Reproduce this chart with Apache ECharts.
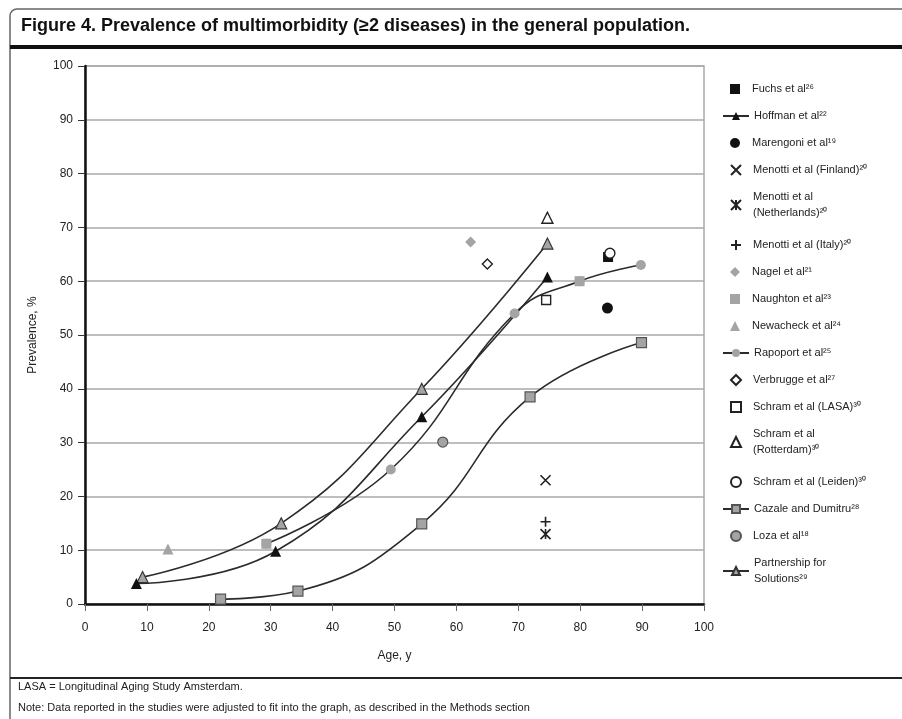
<!DOCTYPE html>
<html><head><meta charset="utf-8">
<script src="https://cdn.jsdelivr.net/npm/echarts@6/dist/echarts.min.js"></script>
<style>html,body{margin:0;padding:0;background:#fff}#c{width:902px;height:719px}</style>
</head><body><div id="c"></div>
<script>
// ---- text ----
const titleText = 'Figure 4. Prevalence of multimorbidity (\u22652 diseases) in the general population.';
const footnote1 = 'LASA = Longitudinal Aging Study Amsterdam.';
const footnote2 = 'Note: Data reported in the studies were adjusted to fit into the graph, as described in the Methods section';
const xName = 'Age, y';
const yName = 'Prevalence, %';
const axisMin = 0, axisMax = 100, axisStep = 10;

// ---- legend names (order as in the figure) ----
const legendNames = [
  'Fuchs et al\u00b2\u2076',
  'Hoffman et al\u00b2\u00b2',
  'Marengoni et al\u00b9\u2079',
  'Menotti et al (Finland)\u00b2\u2070',
  'Menotti et al\n(Netherlands)\u00b2\u2070',
  'Menotti et al (Italy)\u00b2\u2070',
  'Nagel et al\u00b2\u00b9',
  'Naughton et al\u00b2\u00b3',
  'Newacheck et al\u00b2\u2074',
  'Rapoport et al\u00b2\u2075',
  'Verbrugge et al\u00b2\u2077',
  'Schram et al (LASA)\u00b3\u2070',
  'Schram et al\n(Rotterdam)\u00b3\u2070',
  'Schram et al (Leiden)\u00b3\u2070',
  'Cazale and Dumitru\u00b2\u2078',
  'Loza et al\u00b9\u2078',
  'Partnership for\nSolutions\u00b2\u2079'
];

// ---- data: [age, prevalence %] ----
const fuchs        = [[84.5, 64.5]];
const hoffman      = [[8.3, 3.8], [30.8, 9.8], [54.4, 34.8], [74.7, 60.8]];
const marengoni    = [[84.4, 55.0]];
const menottiFin   = [[74.4, 23.0]];
const menottiNeth  = [[74.4, 13.0]];
const menottiItaly = [[74.4, 15.3]];
const nagel        = [[62.3, 67.3]];
const naughton     = [[29.3, 11.2], [79.9, 60.0]];
const newacheck    = [[13.4, 10.2]];
const rapoport     = [[29.3, 11.2], [49.4, 25.0], [69.4, 54.0], [79.9, 60.0], [89.8, 63.0]];
const verbrugge    = [[65.0, 63.2]];
const schramLASA   = [[74.5, 56.5]];
const schramRott   = [[74.7, 71.8]];
const schramLeiden = [[84.8, 65.2]];
const cazale       = [[21.9, 0.9], [34.4, 2.4], [54.4, 14.9], [71.9, 38.5], [89.9, 48.6]];
const loza         = [[57.8, 30.1]];
const partnership  = [[9.3, 5.0], [31.7, 15.0], [54.4, 40.0], [74.7, 67.0]];

// ---- styles ----
const GREY = '#a4a4a4', LINE = '#2b2b2b', BLACK = '#111';
const SYM_X = 'path://M0,0L10,10M10,0L0,10';
const SYM_AST = 'path://M0,0L10,10M10,0L0,10M5,0L5,10';
const SYM_PLUS = 'path://M5,0L5,10M0,5L10,5';

function lineSeries(name, data, symbol, fill, border) {
  return {
    name, type: 'line', data, smooth: 0.45, symbol, symbolSize: symbol === 'triangle' ? 11 : 10,
    lineStyle: { color: LINE, width: 1.6 },
    itemStyle: { color: fill, borderColor: border, borderWidth: border === fill ? 0 : 1.2 },
    emphasis: { disabled: true }, z: 2
  };
}
function scatterSeries(name, data, symbol, fill, border, bw, size) {
  return {
    name, type: 'scatter', data, symbol, symbolSize: size || 10, symbolKeepAspect: true,
    itemStyle: { color: fill, borderColor: border, borderWidth: bw, opacity: 1 },
    emphasis: { disabled: true }, z: 3
  };
}

const series = [
  lineSeries(legendNames[9], rapoport, 'circle', GREY, GREY),
  lineSeries(legendNames[14], cazale, 'rect', GREY, '#555'),
  lineSeries(legendNames[16], partnership, 'triangle', GREY, '#333'),
  lineSeries(legendNames[1], hoffman, 'triangle', BLACK, BLACK),
  scatterSeries(legendNames[0], fuchs, 'rect', BLACK, BLACK, 0, 10),
  scatterSeries(legendNames[2], marengoni, 'circle', BLACK, BLACK, 0, 11),
  scatterSeries(legendNames[3], menottiFin, SYM_X, 'rgba(0,0,0,0)', '#222', 1.6, 10),
  scatterSeries(legendNames[4], menottiNeth, SYM_AST, 'rgba(0,0,0,0)', '#222', 1.6, 10),
  scatterSeries(legendNames[5], menottiItaly, SYM_PLUS, 'rgba(0,0,0,0)', '#222', 1.6, 10),
  scatterSeries(legendNames[6], nagel, 'diamond', GREY, GREY, 0, 11),
  scatterSeries(legendNames[7], naughton, 'rect', GREY, GREY, 0, 10),
  scatterSeries(legendNames[8], newacheck, 'triangle', GREY, GREY, 0, 11),
  scatterSeries(legendNames[10], verbrugge, 'diamond', '#fff', '#222', 1.4, 10),
  scatterSeries(legendNames[11], schramLASA, 'rect', '#fff', '#222', 1.4, 9),
  scatterSeries(legendNames[12], schramRott, 'triangle', '#fff', '#222', 1.4, 11),
  scatterSeries(legendNames[13], schramLeiden, 'circle', '#fff', '#222', 1.4, 10),
  scatterSeries(legendNames[15], loza, 'circle', GREY, '#555', 1.2, 10)
];

// one legend per entry so each row sits where the figure has it
const ICON_W = 26, ICON_H = 10, LEG_LEFT = 722;
const legends = [];
let extra = 0;
legendNames.forEach((n, i) => {
  const s = series.find(x => x.name === n);
  const isLine = s.type === 'line';
  const firstLine = 89 + 27 * i + extra;
  legends.push({
    data: [n], orient: 'vertical',
    left: isLine ? LEG_LEFT : LEG_LEFT + (ICON_W - ICON_H) / 2,
    top: firstLine - 8,
    itemWidth: isLine ? ICON_W : ICON_H, itemHeight: ICON_H, itemGap: 0, padding: 0, selectedMode: false,
    symbolKeepAspect: true,
    textStyle: {
      fontFamily: 'Liberation Sans', fontSize: 11, color: '#222', lineHeight: 16,
      padding: isLine ? 0 : [0, 0, 0, (ICON_W - ICON_H) / 2 - 1]
    }
  });
  if (n.indexOf('\n') >= 0) extra += 21;
});

const chart = echarts.init(document.getElementById('c'), null, { renderer: 'canvas' });
chart.setOption({
  animation: false,
  backgroundColor: '#fff',
  textStyle: { fontFamily: 'Liberation Sans' },
  grid: { left: 85, right: 198, top: 66, bottom: 115, show: true, borderColor: '#aaa', borderWidth: 1.5 },
  xAxis: {
    type: 'value', min: axisMin, max: axisMax, interval: axisStep,
    name: xName, nameLocation: 'middle', nameGap: 46,
    nameTextStyle: { fontSize: 12, color: '#222' },
    axisLine: { lineStyle: { color: '#111', width: 2.5 } },
    axisTick: { length: 7, lineStyle: { color: '#666', width: 1 } },
    axisLabel: { margin: 18, fontSize: 12, color: '#222' },
    splitLine: { show: false }
  },
  yAxis: {
    type: 'value', min: axisMin, max: axisMax, interval: axisStep,
    name: yName, nameLocation: 'middle', nameGap: 46, nameRotate: 90,
    nameTextStyle: { fontSize: 12, color: '#222' },
    axisLine: { show: true, lineStyle: { color: '#111', width: 2.5 } },
    axisTick: { show: true, length: 7, lineStyle: { color: '#333', width: 1 } },
    axisLabel: { margin: 12, fontSize: 12, color: '#222' },
    splitLine: { lineStyle: { color: '#a8a8a8', width: 1.5 } }
  },
  legend: legends,
  series,
  graphic: [
    { type: 'rect', shape: { x: 10, y: 9, width: 960, height: 800, r: 7 }, style: { fill: 'none', stroke: '#666', lineWidth: 1.5 }, silent: true, z: -1 },
    { type: 'text', left: 21, top: 17, style: { text: titleText, font: 'bold 18px "Liberation Sans"', fill: '#111' } },
    { type: 'rect', shape: { x: 10, y: 45, width: 892, height: 4 }, style: { fill: '#111' }, silent: true },
    { type: 'rect', shape: { x: 10, y: 677, width: 892, height: 2 }, style: { fill: '#222' }, silent: true },
    { type: 'text', left: 18, top: 681, style: { text: footnote1, font: '11px "Liberation Sans"', fill: '#222' } },
    { type: 'text', left: 18, top: 702, style: { text: footnote2, font: '11px "Liberation Sans"', fill: '#222' } }
  ]
});
</script>
</body></html>
